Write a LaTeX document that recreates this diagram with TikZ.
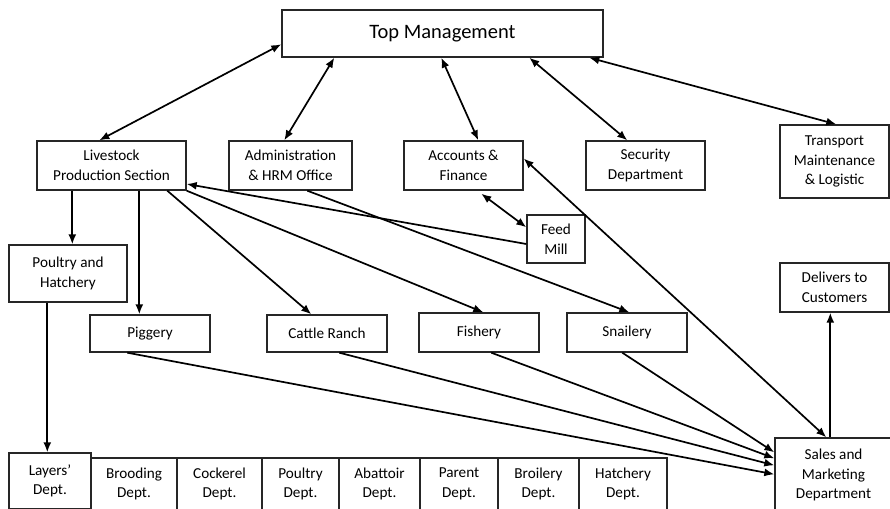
\documentclass[tikz,border=0pt]{standalone}
\usepackage{fontspec}
\setmainfont{Carlito}
\usepackage{tikz}
\usetikzlibrary{arrows.meta,calc}
\tikzset{
  box/.style={draw=black!85, line width=1.4pt, align=center, inner sep=0pt,
    font=\fontsize{15.2}{19.5}\selectfont},
  link/.style={-{Latex[length=10pt,width=8pt]}, line width=1.7pt},
  both/.style={{Latex[length=10pt,width=8pt]}-{Latex[length=10pt,width=8pt]}, line width=1.7pt}
}

\begin{document}
\begin{tikzpicture}[x=1pt,y=-1pt]
  \useasboundingbox (0,0) rectangle (890,508);
  % boxes
  \node[box, minimum width=321pt, minimum height=47pt, font=\fontsize{20.5}{24}\selectfont]
    (top) at (442.5,33.5) {Top Management};
  \node[box, minimum width=149pt, minimum height=49pt] (live) at (111.5,165.5) {Livestock\\Production Section};
  \node[box, minimum width=123pt, minimum height=49pt] (admin) at (290.5,165.5) {Administration\\\& HRM Office};
  \node[box, minimum width=119pt, minimum height=49pt] (acc) at (463.5,165.5) {Accounts \&\\Finance};
  \node[box, minimum width=119pt, minimum height=49pt] (sec) at (645.5,165.5) {Security\\Department};
  \node[box, minimum width=109pt, minimum height=73pt] (trans) at (834.5,161.5) {Transport\\Maintenance\\\& Logistic};
  \node[box, minimum width=58pt, minimum height=48pt] (feed) at (556,239) {Feed\\Mill};
  \node[box, minimum width=118pt, minimum height=57pt] (poultry) at (68,273.5) {Poultry and\\Hatchery};
  \node[box, minimum width=120pt, minimum height=37pt] (pig) at (150,333.5) {Piggery};
  \node[box, minimum width=120pt, minimum height=37pt] (cattle) at (327,333.5) {Cattle Ranch};
  \node[box, minimum width=120pt, minimum height=39pt] (fish) at (479,332.5) {Fishery};
  \node[box, minimum width=120pt, minimum height=39pt] (snail) at (627,332.5) {Snailery};
  \node[box, minimum width=109pt, minimum height=49pt] (deliv) at (834.5,287.5) {Delivers to\\Customers};
  \node[box, minimum width=117pt, minimum height=74pt] (sales) at (833.5,475) {Sales and\\Marketing\\Department};
  \node[box, minimum width=82pt, minimum height=56pt] (layers) at (50,481) {Layers'\\Dept.};
  \foreach \n/\cx/\w/\t in {brood/134/86/Brooding, cock/219.5/85/Cockerel, poul/300.5/77/Poultry,
      abat/379.5/81/Abattoir, parent/459/78/Parent, broil/538.5/81/Broilery, hatch/623/88/Hatchery}
    \node[box, minimum width=\w pt, minimum height=52pt] (\n) at (\cx,484) {\t\\Dept.};
  % top management links
  \draw[both] ($(top.north west)+(0,35)$) -- ($(live.north west)+(63,0)$);
  \draw[both] ($(top.south west)+(53,0)$) -- ($(admin.north west)+(56,0)$);
  \draw[both] ($(top.south west)+(160,0)$) -- ($(acc.north west)+(75,0)$);
  \draw[both] ($(top.south west)+(248,0)$) -- ($(sec.north west)+(42,0)$);
  \draw[both] ($(top.south west)+(308,0)$) -- ($(trans.north west)+(57,0)$);
  % livestock section
  \draw[link] ($(live.south west)+(36,0)$) -- ($(poultry.north west)+(64,0)$);
  \draw[link] ($(live.south west)+(103,0)$) -- ($(pig.north west)+(50,0)$);
  \draw[link] ($(live.south west)+(131,0)$) -- ($(cattle.north west)+(45,0)$);
  \draw[link] (live.south east) -- ($(fish.north west)+(65,0)$);
  \draw[link] ($(feed.west)+(0,5)$) -- ($(live.east)+(0,18.5)$);
  \draw[link] ($(admin.south west)+(79,0)$) -- ($(snail.north west)+(63,0)$);
  \draw[both] ($(acc.south west)+(78,3)$) -- ($(feed.north west)+(0,13)$);
  \draw[both] ($(acc.east)+(0,-7)$) -- ($(sales.north west)+(52,0)$);
  \draw[link] ($(poultry.south west)+(39,0)$) -- ($(layers.north west)+(39,0)$);
  % to sales
  \draw[link] ($(pig.south west)+(38,0)$) -- ($(sales.north west)+(0,37)$);
  \draw[link] ($(cattle.south west)+(73,0)$) -- ($(sales.north west)+(0,28)$);
  \draw[link] ($(fish.south west)+(73,0)$) -- ($(sales.north west)+(0,21)$);
  \draw[link] ($(snail.south west)+(56,0)$) -- ($(sales.north west)+(0,15)$);
  \draw[link] ($(sales.north west)+(56,0)$) -- ($(deliv.south west)+(51,0)$);
\end{tikzpicture}
\end{document}
